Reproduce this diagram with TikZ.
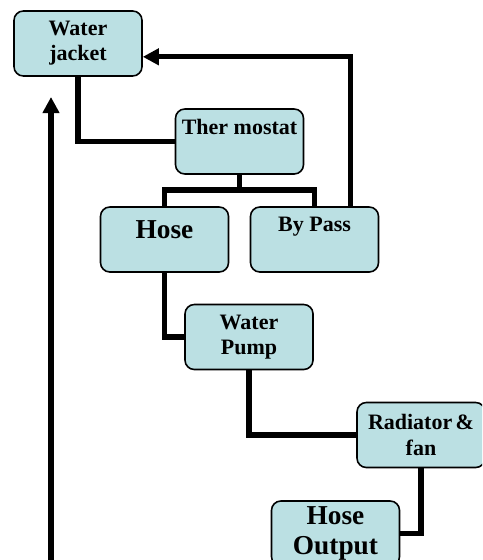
\documentclass[tikz,border=0pt]{standalone}
\usepackage{fontspec}
\setmainfont{Liberation Serif}
\usetikzlibrary{arrows.meta,calc}
\definecolor{partfill}{RGB}{187,224,227}
\tikzset{part/.style={draw, line width=1.2pt, rounded corners=7pt, fill=partfill,
    minimum width=96pt, minimum height=48.75pt, align=center,
    font=\bfseries\fontsize{16.5}{18.9}\selectfont},
  bigpart/.style={part, font=\bfseries\fontsize{20.5}{22.5}\selectfont},
  pipe/.style={line width=3.9pt},
  flow/.style={pipe, -{Triangle[length=12pt,width=12pt]}}}

\begin{document}
\begin{tikzpicture}[x=0.75pt,y=-0.75pt]
    \useasboundingbox (0,0) rectangle (482,560);
    \clip (0,0) rectangle (482,560);
    % parts of the cooling circuit
    \node[part] (jacket) at (78,43.5) {Water\\jacket};
    \node[part,text depth=21.5pt] (thermo) at (239.5,141.5) {Ther mostat};
    \node[bigpart,text depth=15.5pt] (hose) at (164.5,239.5) {Hose};
    \node[part,text depth=23pt] (bypass) at (314.5,239.5) {By Pass};
    \node[part] (pump) at (249,337) {Water\\Pump};
    \node[part] (radiator) at (421,435) {Radiator\hspace{2.5pt}\&\\fan};
    \node[bigpart] (output) at (335.5,533.5) {Hose\\Output};

    \coordinate (split) at (thermo.south |- 0,190);
    \coordinate (feedin) at (51,560);
    \coordinate (feedtop) at (51,97);

    % pipes
    \draw[pipe] (jacket.south) |- (thermo.west);
    \draw[pipe] (thermo.south) -- (split);
    \draw[pipe] (hose.north) |- (split) -| (bypass.north);
    \draw[flow] ($(bypass.north west)!0.78!(bypass.north east)$)
        |- ($(jacket.south east)!0.3!(jacket.north east)$);
    \draw[pipe] (hose.south) |- (pump.west);
    \draw[pipe] (pump.south) |- (radiator.west);
    \draw[pipe] (radiator.south) |- (output.east);
    \draw[flow] (feedin) -- (feedtop);
\end{tikzpicture}
\end{document}
